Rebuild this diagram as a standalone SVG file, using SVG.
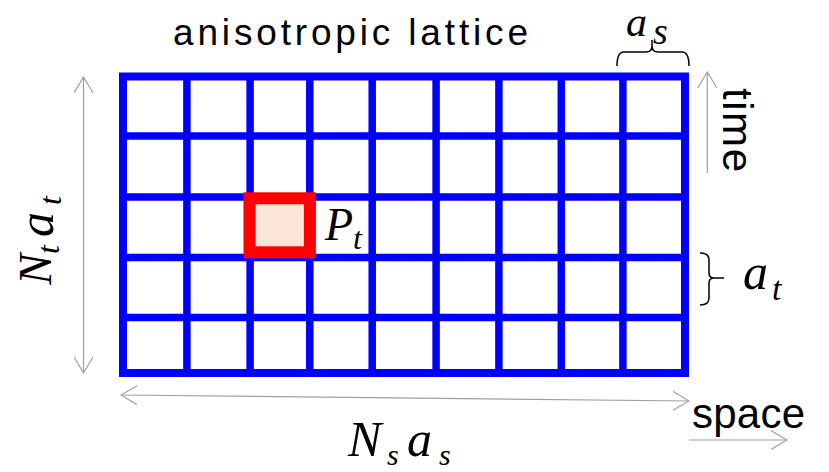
<svg xmlns="http://www.w3.org/2000/svg" width="829" height="472" viewBox="0 0 829 472">
  <style>
    .grid { stroke: #0000FF; stroke-width: 7.5; fill: none; }
    .border { stroke: #0000FF; stroke-width: 8; fill: none; stroke-linejoin: miter; }
    .arrow { stroke: #A0A0A0; stroke-width: 1.2; fill: none; }
    .brace { stroke: #000; stroke-width: 1.5; fill: none; }
    .sans { font-family: "Liberation Sans", Arial, sans-serif; fill: #000; }
    .math { font-family: "Liberation Serif", "Times New Roman", serif; font-style: italic; fill: #000; }
  </style>
  <defs>
    <marker id="open" viewBox="0 0 17 20" refX="16" refY="10" markerWidth="17" markerHeight="20" markerUnits="userSpaceOnUse" orient="auto-start-reverse">
      <path d="M0,0.5 L16,10 L0,19.5" fill="none" stroke="#A0A0A0" stroke-width="1.2"/>
    </marker>
  </defs>

  <g id="lattice">
    <g class="grid">
      <line x1="186.9" y1="76.5" x2="186.9" y2="373"/>
      <line x1="250.1" y1="76.5" x2="250.1" y2="373"/>
      <line x1="309.8" y1="76.5" x2="309.8" y2="373"/>
      <line x1="372.2" y1="76.5" x2="372.2" y2="373"/>
      <line x1="436.1" y1="76.5" x2="436.1" y2="373"/>
      <line x1="498.9" y1="76.5" x2="498.9" y2="373"/>
      <line x1="561.3" y1="76.5" x2="561.3" y2="373"/>
      <line x1="622.9" y1="76.5" x2="622.9" y2="373"/>
      <line x1="123" y1="136" x2="685" y2="136"/>
      <line x1="123" y1="197" x2="685" y2="197"/>
      <line x1="123" y1="257.5" x2="685" y2="257.5"/>
      <line x1="123" y1="317.5" x2="685" y2="317.5"/>
    </g>
    <rect class="border" x="123" y="76.5" width="562" height="296.5"/>
  </g>

  <g id="plaquette">
    <rect x="249.5" y="198.3" width="60.4" height="54" fill="#FBE5D6" stroke="#FF0000" stroke-width="12"/>
    <text class="math" x="325" y="240" font-size="46">P<tspan font-size="32" dy="9">t</tspan></text>
  </g>

  <g id="title">
    <text class="sans" x="173" y="45" font-size="37" textLength="355" lengthAdjust="spacing">anisotropic lattice</text>
  </g>

  <g id="label-as">
    <text class="math" x="626" y="36" font-size="42">a<tspan x="653" y="44" font-size="38">s</tspan></text>
  </g>

  <g id="label-at">
    <text class="math" x="743" y="289" font-size="50">a<tspan x="772" y="300" font-size="34">t</tspan></text>
  </g>

  <g id="label-time">
    <text class="sans" transform="translate(723,88) rotate(90)" x="0" y="0" font-size="42" textLength="84" lengthAdjust="spacing">time</text>
  </g>

  <g id="label-space">
    <text class="sans" x="692" y="428" font-size="42" textLength="113" lengthAdjust="spacing">space</text>
  </g>

  <g id="label-NtAt">
    <text class="math" transform="translate(51,285) rotate(-90)" x="0" y="0" font-size="47">N<tspan x="31" y="8" font-size="32">t</tspan><tspan x="48" y="2" font-size="50">a</tspan><tspan x="80" y="10" font-size="32">t</tspan></text>
  </g>

  <g id="label-NsAs">
    <text class="math" x="348" y="456" font-size="50">N<tspan x="387" y="465" font-size="30">s</tspan><tspan x="407" y="456" font-size="50">a</tspan><tspan x="439" y="465" font-size="30">s</tspan></text>
  </g>

  <g id="connectors">
    <line class="arrow" x1="83.5" y1="77" x2="83.5" y2="373" marker-start="url(#open)" marker-end="url(#open)"/>
    <line class="arrow" x1="121" y1="395" x2="689" y2="401" marker-start="url(#open)" marker-end="url(#open)"/>
    <line class="arrow" x1="707.3" y1="173" x2="707.3" y2="72" marker-end="url(#open)"/>
    <line class="arrow" x1="689" y1="440" x2="787" y2="440" marker-end="url(#open)"/>
    <path class="brace" d="M617,66 Q617,52 624,52 L646,52 Q652,52 652,46 L652,40 M652,46 Q652,52 658,52 L682,52 Q689,52 689,66"/>
    <path class="brace" d="M700,253 Q709,253 709,260 L709,273 Q709,278 714,278 L724,278 M714,278 Q709,278 709,283 L709,298 Q709,305 700,305"/>
  </g>
</svg>
